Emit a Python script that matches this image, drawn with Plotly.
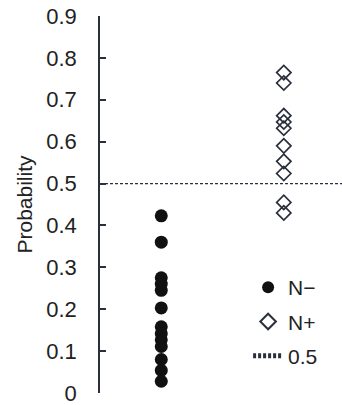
import plotly.graph_objects as go

# Data
n_minus = [0.423, 0.36, 0.275, 0.26, 0.245, 0.203, 0.158, 0.142, 0.127, 0.111, 0.08, 0.054, 0.028]
n_plus = [0.765, 0.74, 0.662, 0.647, 0.632, 0.59, 0.553, 0.524, 0.455, 0.43]
threshold = 0.5
y_ticks = [0, 0.1, 0.2, 0.3, 0.4, 0.5, 0.6, 0.7, 0.8, 0.9]
x_pos = {"N−": 1, "N+": 3}
x_range = [0, 3.95]

FONT = "Liberation Sans, Arial, sans-serif"
INK = "#2a2f3c"

fig = go.Figure()
fig.add_trace(go.Scatter(
    x=[x_pos["N−"]] * len(n_minus), y=n_minus, mode="markers", name="N−",
    legendgroup="a",
    marker=dict(symbol="circle", size=13, color="#111111", line=dict(width=0)),
))
fig.add_trace(go.Scatter(
    x=[x_pos["N+"]] * len(n_plus), y=n_plus, mode="markers", name="N+",
    legendgroup="b",
    marker=dict(symbol="diamond-open", size=11, color=INK, line=dict(width=1.7, color=INK)),
))
fig.add_trace(go.Scatter(
    x=x_range, y=[threshold, threshold], mode="lines", name="0.5",
    legendgroup="c",
    line=dict(color=INK, width=1.3, dash="3px,2px"),
))

fig.update_layout(
    width=342, height=405,
    margin=dict(l=100, r=0, t=16, b=12),
    paper_bgcolor="white", plot_bgcolor="white",
    font=dict(family=FONT, size=21, color="#222222"),
    showlegend=True,
    legend=dict(
        x=0.612, y=0.334, xanchor="left", yanchor="top",
        bgcolor="rgba(0,0,0,0)", borderwidth=0,
        font=dict(family=FONT, size=21, color="#222222"),
        tracegroupgap=4, itemsizing="constant",
    ),
    xaxis=dict(
        range=x_range, visible=False, showgrid=False, zeroline=False,
    ),
    yaxis=dict(
        range=[0, 0.9], tickvals=y_ticks,
        ticktext=[("%g" % v) for v in y_ticks],
        showline=True, linecolor=INK, linewidth=1.5,
        ticks="inside", ticklen=6, tickwidth=1.5, tickcolor=INK,
        showgrid=False, zeroline=False,
        ticklabelstandoff=17, ticklabeloverflow="allow",
        tickfont=dict(family=FONT, size=22, color="#222222"),
        title=dict(text="Probability", font=dict(family=FONT, size=21, color="#222222"), standoff=8),
    ),
)

fig.write_html(
    "out.html",
    config={"displayModeBar": False},
    post_script="document.body.style.margin='0';document.body.style.overflow='hidden';",
)
